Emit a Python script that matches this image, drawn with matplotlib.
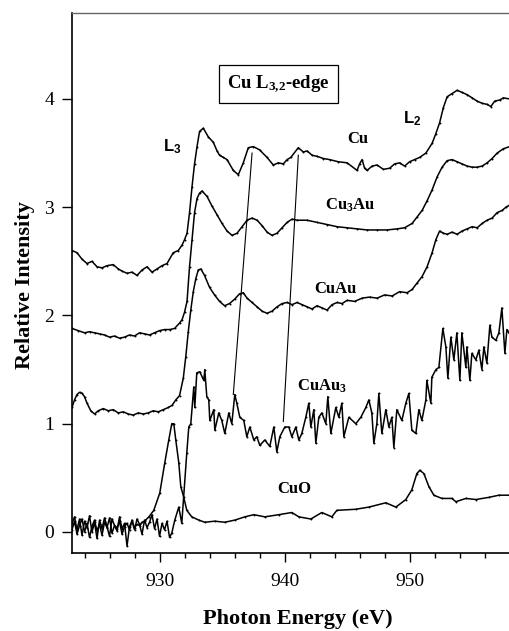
import matplotlib
matplotlib.use("Agg")
import matplotlib.pyplot as plt

# ---------------- data ----------------
cu_x = [923.0, 923.4, 923.8, 924.2, 924.6, 925.0, 925.4, 925.8, 926.3, 926.7,
        927.0, 927.4, 927.8, 928.2, 928.6, 929.0, 929.4, 929.8, 930.2, 930.6,
        931.1, 931.5, 931.8, 932.0, 932.2, 932.4, 932.6, 932.8, 933.0, 933.2,
        933.5, 933.9, 934.3, 934.6, 934.8, 935.1, 935.4, 935.9, 936.3, 936.7,
        937.1, 937.5, 938.0, 938.6, 939.1, 939.5, 939.9, 940.2, 940.5, 941.1,
        941.5, 941.8, 942.2, 942.6, 943.1, 943.6, 944.3, 945.0, 945.8, 946.0,
        946.2, 946.4, 946.6, 947.0, 947.4, 947.9, 948.4, 948.8, 949.2, 949.6,
        950.0, 950.4, 950.8, 951.3, 951.8, 952.1, 952.4, 952.7, 953.0, 953.4,
        953.8, 954.2, 954.6, 955.0, 955.4, 955.8, 956.2, 956.5, 956.8, 957.2,
        957.5, 958.0]
cu_y = [2.60, 2.58, 2.52, 2.48, 2.50, 2.45, 2.44, 2.46, 2.47, 2.43,
        2.41, 2.39, 2.40, 2.37, 2.42, 2.45, 2.40, 2.43, 2.46, 2.48,
        2.58, 2.60, 2.65, 2.70, 2.76, 2.95, 3.19, 3.40, 3.56, 3.70,
        3.73, 3.65, 3.60, 3.52, 3.48, 3.46, 3.44, 3.34, 3.30, 3.41,
        3.55, 3.56, 3.53, 3.46, 3.39, 3.41, 3.40, 3.44, 3.46, 3.55,
        3.51, 3.52, 3.48, 3.47, 3.45, 3.44, 3.42, 3.41, 3.34, 3.40,
        3.44, 3.36, 3.34, 3.38, 3.39, 3.35, 3.36, 3.40, 3.41, 3.38,
        3.42, 3.44, 3.46, 3.50, 3.59, 3.68, 3.78, 3.92, 4.02, 4.05,
        4.08, 4.06, 4.04, 4.01, 3.98, 3.96, 3.95, 3.93, 3.98, 3.99,
        4.01, 4.00]

cu3au_x = [923.0, 923.5, 924.0, 924.4, 924.8, 925.2, 925.6, 926.0, 926.4, 926.8,
           927.2, 927.6, 928.0, 928.4, 928.8, 929.2, 929.6, 930.0, 930.4, 930.8,
           931.2, 931.6, 931.8, 932.0, 932.2, 932.4, 932.6, 932.8, 933.0, 933.2,
           933.4, 933.8, 934.2, 934.6, 935.0, 935.4, 935.8, 936.2, 936.6, 937.0,
           937.4, 937.8, 938.2, 938.6, 939.0, 939.4, 939.8, 940.2, 940.6, 941.0,
           941.8, 942.6, 943.4, 944.2, 945.0, 945.8, 946.6, 947.4, 948.2, 949.0,
           949.6, 950.2, 950.6, 951.0, 951.4, 951.8, 952.2, 952.6, 953.0, 953.4,
           953.8, 954.2, 954.6, 955.0, 955.4, 955.8, 956.2, 956.6, 957.0, 957.5,
           958.0]
cu3au_y = [1.88, 1.86, 1.84, 1.85, 1.84, 1.83, 1.82, 1.80, 1.81, 1.79,
           1.80, 1.82, 1.81, 1.84, 1.83, 1.82, 1.84, 1.86, 1.87, 1.87,
           1.88, 1.93, 1.96, 2.03, 2.13, 2.45, 2.70, 2.95, 3.08, 3.13,
           3.15, 3.10, 3.01, 2.93, 2.85, 2.78, 2.74, 2.76, 2.82, 2.88,
           2.90, 2.88, 2.83, 2.77, 2.74, 2.76, 2.81, 2.86, 2.89, 2.88,
           2.88, 2.86, 2.84, 2.82, 2.81, 2.80, 2.79, 2.79, 2.79, 2.80,
           2.81, 2.85, 2.91, 2.97, 3.06, 3.16, 3.28, 3.37, 3.43, 3.44,
           3.42, 3.40, 3.38, 3.37, 3.37, 3.38, 3.41, 3.45, 3.50, 3.54,
           3.56]

cuau_x = [923.0, 923.2, 923.4, 923.6, 923.8, 924.0, 924.2, 924.5, 924.8, 925.1,
          925.5, 925.9, 926.3, 926.7, 927.1, 927.5, 927.9, 928.3, 928.7, 929.1,
          929.5, 929.9, 930.3, 930.7, 931.0, 931.3, 931.6, 931.9, 932.1, 932.3,
          932.5, 932.7, 932.9, 933.1, 933.3, 933.6, 934.0, 934.4, 934.8, 935.2,
          935.6, 936.0, 936.4, 936.7, 937.0, 937.4, 937.8, 938.2, 938.6, 939.0,
          939.4, 939.8, 940.2, 940.6, 941.0, 941.4, 941.8, 942.2, 942.6, 943.0,
          943.4, 943.8, 944.2, 944.6, 945.0, 945.6, 946.2, 946.8, 947.4, 948.0,
          948.6, 949.2, 949.8, 950.2, 950.6, 951.0, 951.4, 951.8, 952.1, 952.4,
          952.7, 953.0, 953.4, 953.8, 954.2, 954.6, 955.0, 955.4, 955.8, 956.2,
          956.6, 957.0, 957.4, 957.7, 958.0]
cuau_y = [1.15, 1.22, 1.27, 1.29, 1.28, 1.25, 1.19, 1.12, 1.09, 1.12,
          1.14, 1.12, 1.13, 1.10, 1.11, 1.09, 1.08, 1.10, 1.09, 1.10,
          1.12, 1.11, 1.13, 1.15, 1.17, 1.22, 1.26, 1.42, 1.62, 1.85,
          2.05, 2.22, 2.34, 2.42, 2.43, 2.37, 2.26, 2.19, 2.13, 2.09,
          2.11, 2.15, 2.20, 2.21, 2.16, 2.12, 2.08, 2.04, 2.02, 2.04,
          2.08, 2.11, 2.12, 2.10, 2.12, 2.10, 2.08, 2.06, 2.09, 2.07,
          2.05, 2.10, 2.12, 2.11, 2.14, 2.13, 2.16, 2.17, 2.16, 2.19,
          2.18, 2.22, 2.21, 2.24, 2.30, 2.36, 2.45, 2.58, 2.70, 2.78,
          2.76, 2.75, 2.77, 2.75, 2.78, 2.80, 2.82, 2.81, 2.85, 2.88,
          2.90, 2.95, 2.97, 3.00, 3.02]

cuau3_x = [923.0, 923.2, 923.4, 923.6, 923.8, 924.0, 924.2, 924.4, 924.6, 924.8,
           925.0, 925.2, 925.4, 925.6, 925.8, 926.0, 926.2, 926.4, 926.6, 926.8,
           927.0, 927.2, 927.4, 927.6, 927.8, 928.0, 928.2, 928.4, 928.6, 928.8,
           929.0, 929.2, 929.4, 929.6, 929.8, 930.0, 930.2, 930.4, 930.6, 930.8,
           930.98, 931.22, 931.54, 931.78, 932.18, 932.34, 932.50, 932.74, 932.82, 932.98,
           933.22, 933.54, 933.62, 933.78, 933.94, 934.02, 934.34, 934.42, 934.74, 934.98,
           935.22, 935.54, 935.78, 936.02, 936.18, 936.42, 936.74, 936.98, 937.22, 937.54,
           937.78, 938.02, 938.42, 938.82, 939.14, 939.38, 939.62, 940.02, 940.34, 940.58,
           940.90, 941.14, 941.38, 941.70, 941.94, 942.10, 942.34, 942.50, 942.74, 942.98,
           943.30, 943.46, 943.70, 944.10, 944.34, 944.58, 944.74, 945.14, 945.70, 946.10,
           946.50, 946.74, 946.98, 947.14, 947.38, 947.54, 947.78, 948.10, 948.34, 948.58,
           948.74, 948.98, 949.38, 949.70, 949.94, 950.18, 950.50, 950.74, 950.98, 951.30,
           951.38, 951.70, 951.78, 952.10, 952.34, 952.66, 952.90, 953.06, 953.30, 953.54,
           953.78, 954.02, 954.18, 954.50, 954.58, 954.82, 954.98, 955.30, 955.54, 955.78,
           955.94, 956.18, 956.42, 956.58, 956.90, 957.14, 957.38, 957.62, 957.78, 957.94]
cuau3_y = [0.08, 0.14, 0.02, 0.12, -0.03, 0.10, 0.04, 0.15, 0.00, 0.09,
           -0.06, 0.11, 0.03, 0.13, 0.05, -0.04, 0.12, 0.06, 0.01, 0.14,
           0.03, 0.08, -0.13, 0.05, 0.10, 0.02, 0.12, 0.07, -0.02, 0.11,
           0.04, 0.09, 0.16, 0.03, 0.12, -0.04, 0.08, 0.02, 0.10, -0.05,
           -0.01, 0.11, 0.23, 0.08, 0.73, 0.97, 1.00, 1.34, 1.15, 1.47,
           1.48, 1.40, 1.50, 1.25, 1.22, 1.03, 1.13, 0.94, 1.10, 1.03,
           0.91, 1.10, 1.00, 1.27, 1.19, 1.06, 1.03, 0.88, 0.97, 0.85,
           0.88, 0.80, 0.85, 0.79, 0.97, 0.74, 0.88, 0.97, 0.97, 0.88,
           0.97, 0.85, 0.91, 1.06, 1.19, 0.97, 1.13, 0.82, 1.06, 1.10,
           1.00, 1.25, 0.91, 1.15, 1.06, 1.19, 0.88, 1.06, 1.00, 1.06,
           1.15, 1.22, 1.10, 0.82, 1.00, 1.28, 0.91, 1.13, 0.97, 1.06,
           0.78, 1.13, 1.03, 1.19, 1.28, 0.94, 0.91, 1.13, 1.03, 1.22,
           1.40, 1.19, 1.43, 1.50, 1.52, 1.88, 1.71, 1.42, 1.80, 1.59,
           1.84, 1.40, 1.84, 1.52, 1.71, 1.40, 1.65, 1.59, 1.68, 1.50,
           1.71, 1.56, 1.91, 1.80, 1.77, 1.84, 2.07, 1.65, 1.87, 1.84]

cuo_x = [923.0, 923.2, 923.4, 923.6, 923.8, 924.0, 924.2, 924.4, 924.6, 924.8,
         925.0, 925.2, 925.4, 925.6, 925.8, 926.0, 926.2, 926.4, 926.6, 926.8,
         927.0, 927.2, 927.4, 927.6, 927.8, 928.0, 928.2, 928.4, 928.6, 928.8,
         929.15, 929.54, 930.02, 930.42, 930.74, 930.98, 931.14, 931.30, 931.54, 931.70,
         931.94, 932.18, 932.58, 933.14, 933.62, 934.42, 935.22, 936.02, 936.82, 937.54,
         938.42, 939.54, 940.58, 941.14, 942.10, 942.98, 943.78, 944.18, 945.70, 946.74,
         948.10, 948.90, 949.70, 950.18, 950.58, 950.82, 951.14, 951.54, 951.94, 952.58,
         953.38, 953.70, 954.50, 955.30, 956.34, 957.14, 957.94]
cuo_y = [0.02, 0.10, -0.02, 0.06, 0.12, 0.00, 0.08, -0.05, 0.05, 0.11,
         0.01, 0.07, -0.03, 0.09, 0.04, 0.13, -0.01, 0.06, 0.03, 0.10,
         -0.02, 0.05, 0.08, 0.02, 0.11, 0.04, 0.07, 0.06, 0.09, 0.10,
         0.14, 0.20, 0.36, 0.64, 0.85, 1.00, 1.00, 0.85, 0.64, 0.42,
         0.32, 0.20, 0.14, 0.11, 0.09, 0.10, 0.09, 0.11, 0.14, 0.16,
         0.14, 0.16, 0.18, 0.14, 0.12, 0.18, 0.14, 0.20, 0.21, 0.23,
         0.27, 0.23, 0.30, 0.39, 0.54, 0.57, 0.54, 0.42, 0.34, 0.31,
         0.31, 0.28, 0.31, 0.30, 0.32, 0.34, 0.34]

guide1_x = [937.4, 935.9]
guide1_y = [3.50, 1.27]
guide2_x = [941.1, 939.9]
guide2_y = [3.48, 1.02]

xticks_major = [930, 940, 950]
xticks_minor = [924, 926, 928, 932, 934, 936, 938, 942, 944, 946, 948, 952, 954, 956]
yticks = [0, 1, 2, 3, 4]

# ---------------- styling ----------------
plt.rcParams['mathtext.fontset'] = 'custom'
plt.rcParams['mathtext.rm'] = 'Liberation Serif:bold'
plt.rcParams['mathtext.it'] = 'Liberation Serif:bold'
plt.rcParams['mathtext.bf'] = 'Liberation Serif:bold'
plt.rcParams['mathtext.sf'] = 'Liberation Sans:bold'

W, H = 509, 631
fig = plt.figure(figsize=(W / 100, H / 100), dpi=100)
ax = fig.add_axes([72 / W, 1 - 553 / H, (W - 72) / W, (553 - 13) / H])

line_kw = dict(color='black', lw=1.1, marker='o', ms=1.4, mew=0)
for xs, ys in [(cu_x, cu_y), (cu3au_x, cu3au_y), (cuau_x, cuau_y),
               (cuau3_x, cuau3_y), (cuo_x, cuo_y)]:
    ax.plot(xs, ys, **line_kw)
ax.plot(guide1_x, guide1_y, color='black', lw=0.8)
ax.plot(guide2_x, guide2_y, color='black', lw=0.8)

ax.set_xlim(923.0, 957.95)
ax.set_ylim(-0.194, 4.794)

ax.set_xticks(xticks_major)
ax.set_xticks(xticks_minor, minor=True)
ax.set_yticks(yticks)
ax.tick_params(axis='x', which='major', direction='out', length=6.5, width=1.0,
               pad=8, labelsize=14)
ax.tick_params(axis='x', which='minor', direction='out', length=3.5, width=1.0)
ax.tick_params(axis='y', which='major', direction='out', length=7, width=1.0,
               pad=6, labelsize=14)
for lab in ax.get_xticklabels() + ax.get_yticklabels():
    lab.set_fontfamily('Liberation Serif')

ax.spines['right'].set_visible(False)
ax.spines['left'].set_linewidth(1.2)
ax.spines['bottom'].set_linewidth(1.2)
ax.spines['top'].set_linewidth(1.0)
ax.spines['top'].set_color('#666666')

serif = dict(fontfamily='Liberation Serif', fontweight='bold', color='black')
sans = dict(fontfamily='Liberation Sans', fontweight='bold', color='black')

ax.text(935.4, 4.10, r'Cu L$_{3{,}2}$-edge', fontsize=13.5, ha='left', va='baseline',
        bbox=dict(boxstyle='square,pad=0.45', fc='white', ec='black', lw=0.9), **serif)
ax.text(930.25, 3.51, r'L$_\mathsf{3}$', fontsize=12, ha='left', va='baseline', **sans)
ax.text(949.45, 3.77, r'L$_\mathsf{2}$', fontsize=12, ha='left', va='baseline', **sans)
ax.text(945.05, 3.59, 'Cu', fontsize=12, ha='left', va='baseline', **serif)
ax.text(943.2, 2.975, r'Cu$_3$Au', fontsize=12, ha='left', va='baseline', **serif)
ax.text(942.4, 2.21, 'CuAu', fontsize=12, ha='left', va='baseline', **serif)
ax.text(941.0, 1.31, r'CuAu$_3$', fontsize=12, ha='left', va='baseline', **serif)
ax.text(939.45, 0.36, 'CuO', fontsize=12, ha='left', va='baseline', **serif)

fig.text(298 / W, 1 - 619 / H, 'Photon Energy (eV)', fontsize=16, ha='center',
         va='center', **serif)
fig.text(25 / W, 1 - 285 / H, 'Relative Intensity', fontsize=16, ha='center',
         va='center', rotation=90, **serif)

fig.savefig('out.png', dpi=100)
